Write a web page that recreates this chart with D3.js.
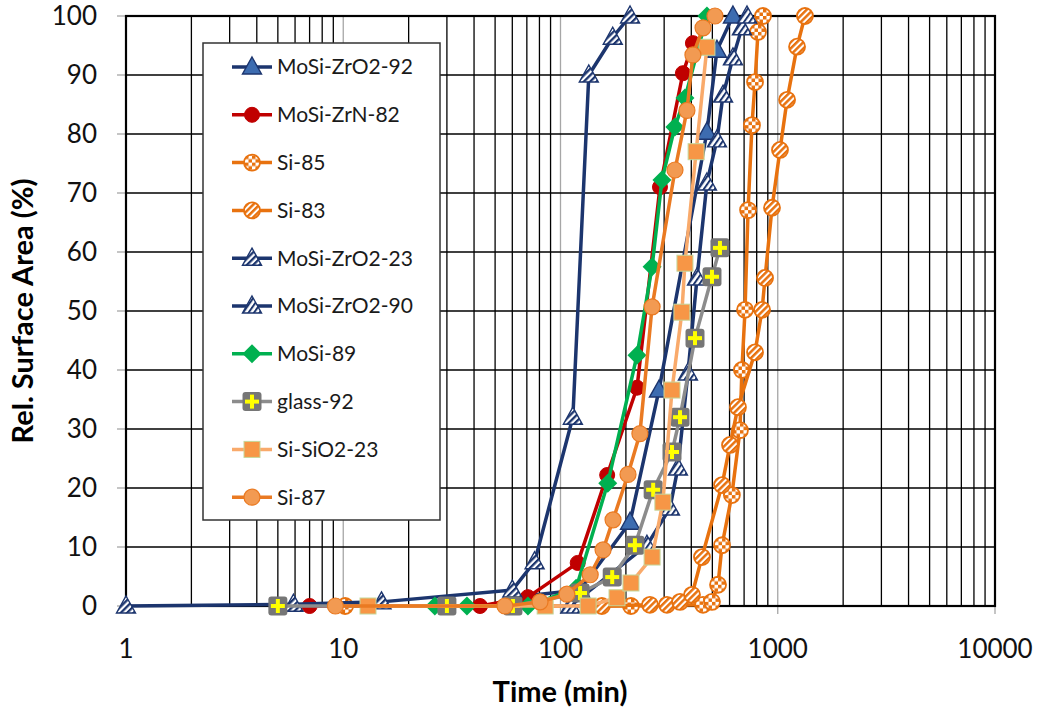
<!DOCTYPE html>
<html>
<head>
<meta charset="utf-8">
<script src="https://cdn.jsdelivr.net/npm/d3@7"></script>
<style>
body { margin: 0; background: #fff; }
text { font-family: Lato, "Open Sans", sans-serif; }
</style>
</head>
<body>
<svg id="chart" width="1042" height="712"></svg>
<script>
// data: time (min) and relative surface area (%)
var zro2_92_t = [60, 123, 209, 284, 472, 525, 622];
var zro2_92_v = [1.5, 2.7, 14.2, 36.6, 80.3, 94.2, 100];

var zrn_82_t = [7, 42.6, 70.8, 120, 164, 225, 287, 366, 407];
var zrn_82_v = [0, 0, 1.5, 7.3, 22.2, 37, 71, 90.3, 95.4];

var si_85_t = [10.2, 211, 453, 498, 531, 554, 615, 670, 684, 707, 730, 761, 786, 811, 855];
var si_85_v = [0, 0, 0.2, 0.7, 3.6, 10.3, 18.8, 29.8, 40, 50.2, 67.1, 81.5, 88.8, 97.3, 100];

var si_83_t = [155, 258, 309, 355, 403, 448, 554, 603, 656, 786, 847, 874, 941, 1024, 1104, 1227, 1334];
var si_83_v = [0, 0.2, 0.2, 0.7, 1.9, 8.3, 20.5, 27.3, 33.7, 43, 50.2, 55.6, 67.5, 77.3, 85.8, 94.8, 100];

var zro2_23_t = [1, 5.9, 15, 60, 76, 114, 135, 174, 209];
var zro2_23_v = [0, 0.3, 0.7, 2.7, 7.5, 32, 90, 96.4, 100];

var zro2_90_t = [111, 250, 319, 347, 386, 425, 472, 525, 560, 622, 684, 722];
var zro2_90_v = [0, 10.3, 16.6, 23.4, 39.5, 55.6, 71.7, 79, 86.6, 92.9, 98, 100];

var mosi_89_t = [26.4, 37.1, 70.8, 118, 165, 225, 264, 293, 336, 374, 472];
var mosi_89_v = [0, 0, 0, 3, 20.8, 42.5, 57.5, 72.2, 81.2, 86.1, 100];

var glass_92_t = [5, 30, 60.4, 123, 173, 220, 267, 326, 355, 416, 498, 542];
var glass_92_v = [0, 0, 0, 2.2, 4.9, 10.3, 19.7, 26.1, 32, 45.4, 55.8, 60.7];

var sio2_23_t = [13, 85, 134, 182, 211, 264, 296, 326, 362, 374, 421, 472];
var sio2_23_v = [0, 0, 0, 1.4, 3.9, 8.3, 17.6, 36.6, 49.8, 58.1, 77, 94.7];

var si_87_t = [9.2, 55.5, 80.5, 107, 137, 157, 174.5, 204.5, 232, 264, 336.5, 382, 407, 453, 514];
var si_87_v = [0, 0, 0.7, 2, 5.3, 9.5, 14.6, 22.3, 29.2, 50.7, 73.9, 84, 93.4, 98, 100];

var xTicks = [1, 10, 100, 1000, 10000];
var yTicks = [0, 10, 20, 30, 40, 50, 60, 70, 80, 90, 100];

var navy = "#1c356e";

// series in legend order (last one drawn on top)
var series = [
    {name: "MoSi-ZrO2-92", t: zro2_92_t, v: zro2_92_v, color: navy, marker: "triSolid"},
    {name: "MoSi-ZrN-82", t: zrn_82_t, v: zrn_82_v, color: "#c00000", marker: "circleRed"},
    {name: "Si-85", t: si_85_t, v: si_85_v, color: "#e8720f", marker: "circleCheck"},
    {name: "Si-83", t: si_83_t, v: si_83_v, color: "#e8720f", marker: "circleStripe"},
    {name: "MoSi-ZrO2-23", t: zro2_23_t, v: zro2_23_v, color: navy, marker: "triStripe"},
    {name: "MoSi-ZrO2-90", t: zro2_90_t, v: zro2_90_v, color: navy, marker: "triStripe2"},
    {name: "MoSi-89", t: mosi_89_t, v: mosi_89_v, color: "#00b050", marker: "diamond"},
    {name: "glass-92", t: glass_92_t, v: glass_92_v, color: "#8c8c8c", marker: "glass"},
    {name: "Si-SiO2-23", t: sio2_23_t, v: sio2_23_v, color: "#f9aa6b", marker: "square"},
    {name: "Si-87", t: si_87_t, v: si_87_v, color: "#ea7a22", marker: "circleOrange"}
];

var svg = d3.select("#chart");

var x = d3.scaleLog().domain([1, 10000]).range([126, 995]);
var y = d3.scaleLinear().domain([0, 100]).range([606, 16]);

// patterns for the hatched markers
var defs = svg.append("defs");

function stripes(id, bg, fg, angle, w) {
    var p = defs.append("pattern")
        .attr("id", id)
        .attr("patternUnits", "userSpaceOnUse")
        .attr("width", 4.5)
        .attr("height", 4.5)
        .attr("patternTransform", "rotate(" + angle + ")");
    p.append("rect").attr("width", 4.5).attr("height", 4.5).attr("fill", bg);
    p.append("rect").attr("width", w).attr("height", 4.5).attr("fill", fg);
}
stripes("stNavy", "#ffffff", navy, 45, 2.3);
stripes("stNavy2", "#ffffff", navy, 35, 2);
stripes("stOrange", "#ffffff", "#e8720f", 45, 2.5);

var chk = defs.append("pattern")
    .attr("id", "chkOrange")
    .attr("patternUnits", "userSpaceOnUse")
    .attr("width", 7)
    .attr("height", 7);
chk.append("rect").attr("width", 7).attr("height", 7).attr("fill", "#ffffff");
chk.append("rect").attr("width", 3.5).attr("height", 3.5).attr("fill", "#e8720f");
chk.append("rect").attr("x", 3.5).attr("y", 3.5).attr("width", 3.5).attr("height", 3.5).attr("fill", "#e8720f");

// grid
var grid = svg.append("g");
var minor = [];
for (var dec = 1; dec < 10000; dec *= 10) {
    for (var k = 2; k <= 9; k++) minor.push(dec * k);
}
grid.selectAll(".minor")
    .data(minor)
    .enter().append("line")
    .attr("x1", function(d) { return x(d); })
    .attr("x2", function(d) { return x(d); })
    .attr("y1", y(0))
    .attr("y2", y(100))
    .attr("stroke", "#000")
    .attr("stroke-width", 1.3);

grid.selectAll(".major")
    .data([10, 100, 1000])
    .enter().append("line")
    .attr("x1", function(d) { return x(d); })
    .attr("x2", function(d) { return x(d); })
    .attr("y1", y(0) + 8)
    .attr("y2", y(100))
    .attr("stroke", "#a6a6a6")
    .attr("stroke-width", 1.3);

grid.selectAll(".hline")
    .data(yTicks)
    .enter().append("line")
    .attr("x1", x(1))
    .attr("x2", x(10000))
    .attr("y1", function(d) { return y(d); })
    .attr("y2", function(d) { return y(d); })
    .attr("stroke", "#000")
    .attr("stroke-width", 1.5);

// ticks
grid.selectAll(".ytick")
    .data(yTicks)
    .enter().append("line")
    .attr("x1", x(1) - 9)
    .attr("x2", x(1))
    .attr("y1", function(d) { return y(d); })
    .attr("y2", function(d) { return y(d); })
    .attr("stroke", "#a6a6a6")
    .attr("stroke-width", 1.3);

grid.selectAll(".xtick")
    .data([1, 10000])
    .enter().append("line")
    .attr("x1", function(d) { return x(d); })
    .attr("x2", function(d) { return x(d); })
    .attr("y1", y(0))
    .attr("y2", y(0) + 8)
    .attr("stroke", "#a6a6a6")
    .attr("stroke-width", 1.3);

// plot border
svg.append("rect")
    .attr("x", x(1))
    .attr("y", y(100))
    .attr("width", x(10000) - x(1))
    .attr("height", y(0) - y(100))
    .attr("fill", "none")
    .attr("stroke", "#000")
    .attr("stroke-width", 2.2);

// tick labels
svg.selectAll(".ylab")
    .data(yTicks)
    .enter().append("text")
    .attr("x", 97)
    .attr("y", function(d) { return y(d); })
    .attr("dy", "0.35em")
    .attr("text-anchor", "end")
    .style("font-size", "26px")
    .attr("fill", "#111")
    .text(function(d) { return d; });

svg.selectAll(".xlab")
    .data(xTicks)
    .enter().append("text")
    .attr("x", function(d) { return x(d); })
    .attr("y", 658)
    .attr("text-anchor", "middle")
    .style("font-size", "26px")
    .attr("fill", "#111")
    .text(function(d) { return d; });

svg.append("text")
    .attr("x", 560)
    .attr("y", 702)
    .attr("text-anchor", "middle")
    .style("font-size", "29px")
    .style("font-weight", "bold")
    .text("Time (min)");

svg.append("text")
    .attr("transform", "translate(33,311) rotate(-90)")
    .attr("text-anchor", "middle")
    .style("font-size", "29px")
    .style("font-weight", "bold")
    .text("Rel. Surface Area (%)");

// marker drawing
function drawMarker(g, type, color) {
    if (type == "triSolid" || type == "triStripe" || type == "triStripe2") {
        var fill = type == "triSolid" ? "#3d6cb0" : (type == "triStripe" ? "url(#stNavy)" : "url(#stNavy2)");
        g.append("path")
            .attr("d", "M0,-10L9.5,7L-9.5,7Z")
            .attr("fill", fill)
            .attr("stroke", navy)
            .attr("stroke-width", 1.4);
    } else if (type == "circleRed") {
        g.append("circle").attr("r", 7.5).attr("fill", "#c00000").attr("stroke", "#c00000");
    } else if (type == "circleOrange") {
        g.append("circle").attr("r", 8).attr("fill", "#f29a52").attr("stroke", "#ea7a22").attr("stroke-width", 1.2);
    } else if (type == "circleCheck") {
        g.append("circle").attr("r", 8).attr("fill", "url(#chkOrange)").attr("stroke", "#e8720f").attr("stroke-width", 1.8);
    } else if (type == "circleStripe") {
        g.append("circle").attr("r", 8).attr("fill", "url(#stOrange)").attr("stroke", "#e8720f").attr("stroke-width", 1.8);
    } else if (type == "diamond") {
        g.append("path").attr("d", "M0,-9.5L9.5,0L0,9.5L-9.5,0Z").attr("fill", "#00b050");
    } else if (type == "square") {
        g.append("rect")
            .attr("x", -8).attr("y", -8).attr("width", 16).attr("height", 16)
            .attr("fill", "#f79646").attr("stroke", "#c4d79b").attr("stroke-width", 1);
    } else if (type == "glass") {
        g.append("rect")
            .attr("x", -9.5).attr("y", -9.5).attr("width", 19).attr("height", 19).attr("rx", 3)
            .attr("fill", "#767676");
        g.append("rect").attr("x", -2).attr("y", -7).attr("width", 4).attr("height", 14).attr("fill", "#ffff00");
        g.append("rect").attr("x", -7).attr("y", -2).attr("width", 14).attr("height", 4).attr("fill", "#ffff00");
    }
}

var line = d3.line()
    .x(function(d) { return x(d[0]); })
    .y(function(d) { return y(d[1]); });

// series: lines and markers
series.forEach(function(s) {
    var pts = s.t.map(function(t, i) { return [t, s.v[i]]; });
    var g = svg.append("g");
    g.append("path")
        .datum(pts)
        .attr("d", line)
        .attr("fill", "none")
        .attr("stroke", s.color)
        .attr("stroke-width", 3.5)
        .attr("stroke-linejoin", "round");
    g.selectAll(".pt")
        .data(pts)
        .enter().append("g")
        .attr("transform", function(d) { return "translate(" + x(d[0]) + "," + y(d[1]) + ")"; })
        .each(function() { drawMarker(d3.select(this), s.marker, s.color); });
});

// legend
var legend = svg.append("g");
legend.append("rect")
    .attr("x", 203)
    .attr("y", 43)
    .attr("width", 237)
    .attr("height", 477)
    .attr("fill", "#fff")
    .attr("stroke", "#333")
    .attr("stroke-width", 1.5);

var items = legend.selectAll(".item")
    .data(series)
    .enter().append("g")
    .attr("transform", function(d, i) { return "translate(0," + (67 + i * 47.8) + ")"; });

items.append("line")
    .attr("x1", 232)
    .attr("x2", 272)
    .attr("stroke", function(d) { return d.color; })
    .attr("stroke-width", 3.5);

items.append("g")
    .attr("transform", "translate(252,0)")
    .each(function(d) { drawMarker(d3.select(this), d.marker, d.color); });

items.append("text")
    .attr("x", 277)
    .attr("dy", "0.35em")
    .style("font-size", "21px")
    .attr("fill", "#1a1a1a")
    .text(function(d) { return d.name; });
</script>
</body>
</html>
